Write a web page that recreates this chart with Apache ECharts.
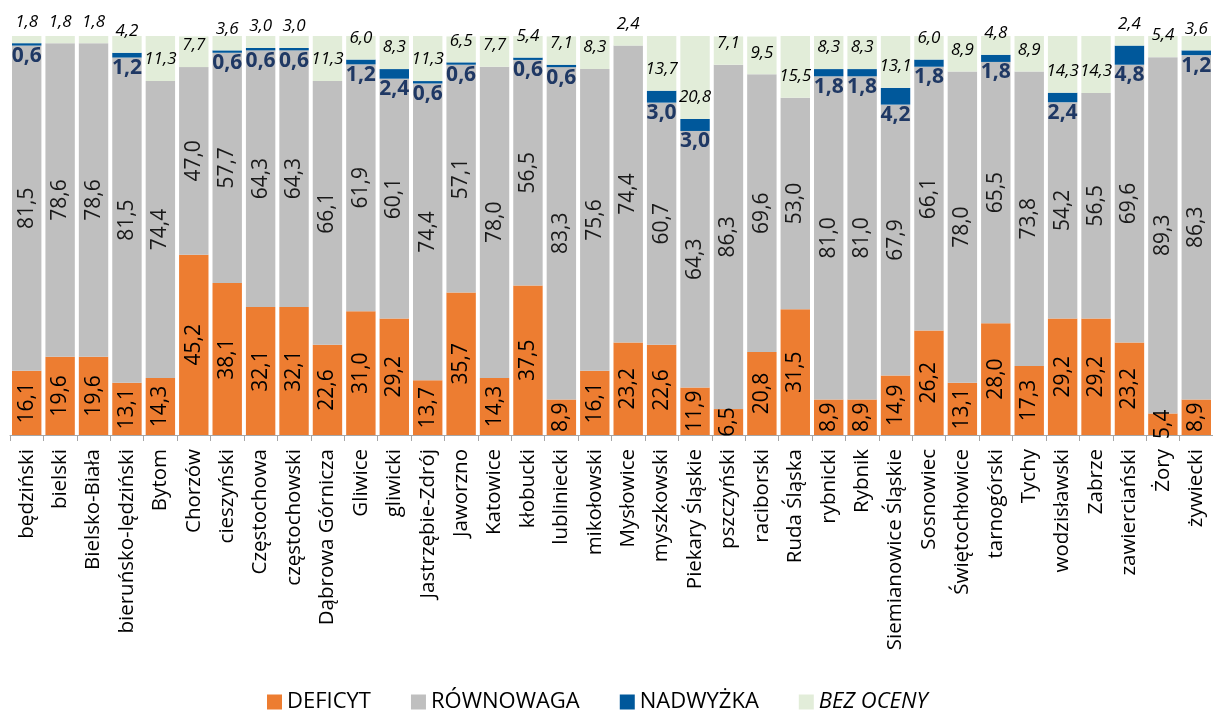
<!DOCTYPE html>
<html>
<head>
<meta charset="utf-8">
<script src="https://cdn.jsdelivr.net/npm/echarts@6/dist/echarts.min.js"></script>
<style>
  html, body { margin: 0; padding: 0; background: #fff; }
  #chart { width: 1213px; height: 713px; }
</style>
</head>
<body>
<div id="chart"></div>
<script>
// kategorie (powiaty / miasta)
const categories = [
  "będziński", "bielski", "Bielsko-Biała", "bieruńsko-lędziński", "Bytom", "Chorzów",
  "cieszyński", "Częstochowa", "częstochowski", "Dąbrowa Górnicza", "Gliwice", "gliwicki",
  "Jastrzębie-Zdrój", "Jaworzno", "Katowice", "kłobucki", "lubliniecki", "mikołowski",
  "Mysłowice", "myszkowski", "Piekary Śląskie", "pszczyński", "raciborski", "Ruda Śląska",
  "rybnicki", "Rybnik", "Siemianowice Śląskie", "Sosnowiec", "Świętochłowice", "tarnogórski",
  "Tychy", "wodzisławski", "Zabrze", "zawierciański", "Żory", "żywiecki"
];

const deficyt = [
  16.1, 19.6, 19.6, 13.1, 14.3, 45.2, 38.1, 32.1, 32.1, 22.6, 31.0, 29.2,
  13.7, 35.7, 14.3, 37.5, 8.9, 16.1, 23.2, 22.6, 11.9, 6.5, 20.8, 31.5,
  8.9, 8.9, 14.9, 26.2, 13.1, 28.0, 17.3, 29.2, 29.2, 23.2, 5.4, 8.9
];

const rownowaga = [
  81.5, 78.6, 78.6, 81.5, 74.4, 47.0, 57.7, 64.3, 64.3, 66.1, 61.9, 60.1,
  74.4, 57.1, 78.0, 56.5, 83.3, 75.6, 74.4, 60.7, 64.3, 86.3, 69.6, 53.0,
  81.0, 81.0, 67.9, 66.1, 78.0, 65.5, 73.8, 54.2, 56.5, 69.6, 89.3, 86.3
];

const nadwyzka = [
  0.6, 0, 0, 1.2, 0, 0, 0.6, 0.6, 0.6, 0, 1.2, 2.4,
  0.6, 0.6, 0, 0.6, 0.6, 0, 0, 3.0, 3.0, 0, 0, 0,
  1.8, 1.8, 4.2, 1.8, 0, 1.8, 0, 2.4, 0, 4.8, 0, 1.2
];

const bezOceny = [
  1.8, 1.8, 1.8, 4.2, 11.3, 7.7, 3.6, 3.0, 3.0, 11.3, 6.0, 8.3,
  11.3, 6.5, 7.7, 5.4, 7.1, 8.3, 2.4, 13.7, 20.8, 7.1, 9.5, 15.5,
  8.3, 8.3, 13.1, 6.0, 8.9, 4.8, 8.9, 14.3, 14.3, 2.4, 5.4, 3.6
];

const fontFamily = "'Open Sans', 'Noto Sans', sans-serif";

// liczby z przecinkiem
const fmt = (p) => (p.value ? p.value.toFixed(1).replace(".", ",") : "");

const chart = echarts.init(document.getElementById("chart"));

const options = {
  animation: false,
  textStyle: { fontFamily: fontFamily },
  grid: {
    top: 36,
    bottom: 278,
    left: 10,
    right: 0,
  },
  legend: {
    top: 686,
    left: 262,
    itemWidth: 15,
    itemHeight: 15,
    itemGap: 40,
    icon: "rect",
    textStyle: { fontSize: 22, color: "#000", fontFamily: fontFamily },
    data: [
      "DEFICYT",
      "RÓWNOWAGA",
      "NADWYŻKA",
      { name: "BEZ OCENY", textStyle: { fontStyle: "italic" } },
    ],
  },
  xAxis: {
    type: "category",
    data: categories,
    axisLine: { lineStyle: { color: "#A6A6A6", width: 1 } },
    axisTick: { show: true, length: 6, lineStyle: { color: "#A6A6A6" } },
    axisLabel: {
      rotate: 90,
      interval: 0,
      margin: 14,
      fontSize: 20.5,
      color: "#000",
    },
  },
  yAxis: {
    type: "value",
    min: 0,
    max: 100,
    show: false,
    splitLine: { show: false },
  },
  series: [
    {
      name: "DEFICYT",
      type: "bar",
      stack: "all",
      barCategoryGap: "12%",
      data: deficyt,
      itemStyle: { color: "#ED7D31" },
      label: {
        show: true,
        position: "inside",
        rotate: 90,
        fontSize: 21,
        color: "#000",
        formatter: fmt,
      },
    },
    {
      name: "RÓWNOWAGA",
      type: "bar",
      stack: "all",
      data: rownowaga,
      itemStyle: { color: "#BFBFBF" },
      label: {
        show: true,
        position: "inside",
        rotate: 90,
        fontSize: 21,
        color: "#1a1a1a",
        formatter: fmt,
      },
    },
    {
      name: "NADWYŻKA",
      type: "bar",
      stack: "all",
      data: nadwyzka,
      itemStyle: { color: "#00589B" },
      label: {
        show: true,
        position: "bottom",
        distance: 0,
        fontSize: 21,
        fontWeight: "bold",
        color: "#1F3864",
        formatter: fmt,
      },
    },
    {
      name: "BEZ OCENY",
      type: "bar",
      stack: "all",
      data: bezOceny,
      itemStyle: { color: "#E2EDD9" },
      label: {
        show: true,
        position: "insideBottom",
        distance: 13,
        fontSize: 17,
        fontStyle: "italic",
        color: "#000",
        formatter: fmt,
      },
    },
  ],
};

chart.setOption(options);
</script>
</body>
</html>
